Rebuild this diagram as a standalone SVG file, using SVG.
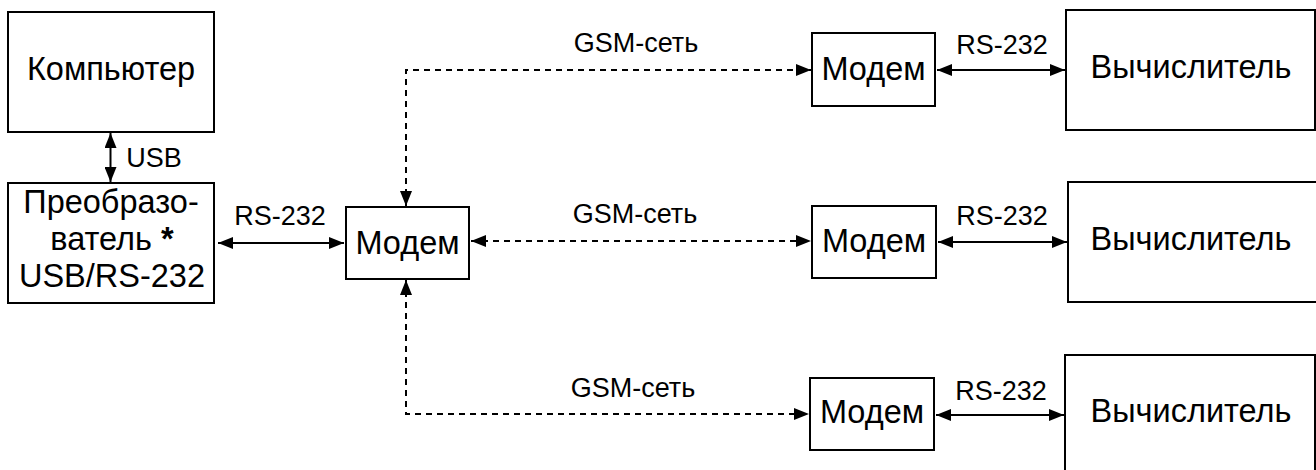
<svg xmlns="http://www.w3.org/2000/svg" width="1316" height="470" viewBox="0 0 1316 470">
<style>
.box{fill:#fff;stroke:#000;stroke-width:2}
.nt{font-family:"Liberation Sans",Arial,sans-serif;font-size:32.5px;fill:#000;text-anchor:middle}
.lt{font-family:"Liberation Sans",Arial,sans-serif;font-size:27px;fill:#000;text-anchor:middle}
.ln{fill:none;stroke:#000;stroke-width:2}
.dash{stroke-dasharray:6 5}
</style>
<defs>
<marker id="ah" viewBox="0 0 15 12" refX="15" refY="6" markerWidth="15" markerHeight="12" markerUnits="userSpaceOnUse" orient="auto-start-reverse">
<path d="M0,0 L15,6 L0,12 Z" fill="#000"/>
</marker>
</defs>
<rect width="1316" height="470" fill="#fff"/>
<g id="connectors">
<line class="ln" x1="110.5" y1="133" x2="110.5" y2="182" marker-start="url(#ah)" marker-end="url(#ah)"/>
<line class="ln" x1="218" y1="243" x2="344" y2="243" marker-start="url(#ah)" marker-end="url(#ah)"/>
<path class="ln dash" d="M406,206 V70 H811" marker-start="url(#ah)" marker-end="url(#ah)"/>
<line class="ln dash" x1="471" y1="241" x2="811" y2="241" marker-start="url(#ah)" marker-end="url(#ah)"/>
<path class="ln dash" d="M406,280 V414 H809" marker-start="url(#ah)" marker-end="url(#ah)"/>
<line class="ln" x1="937" y1="70" x2="1065" y2="70" marker-start="url(#ah)" marker-end="url(#ah)"/>
<line class="ln" x1="938" y1="242" x2="1067" y2="242" marker-start="url(#ah)" marker-end="url(#ah)"/>
<line class="ln" x1="936" y1="415" x2="1064" y2="415" marker-start="url(#ah)" marker-end="url(#ah)"/>
<text class="lt" x="154" y="167">USB</text>
<text class="lt" x="280" y="225">RS-232</text>
<text class="lt" x="636" y="52">GSM-сеть</text>
<text class="lt" x="635" y="223">GSM-сеть</text>
<text class="lt" x="633" y="397">GSM-сеть</text>
<text class="lt" x="1002" y="54">RS-232</text>
<text class="lt" x="1002" y="225">RS-232</text>
<text class="lt" x="1001" y="400">RS-232</text>
</g>
<g id="computer">
<rect class="box" x="8" y="12" width="206" height="120"/>
<text class="nt" x="111" y="80">Компьютер</text>
</g>
<g id="converter">
<rect class="box" x="8" y="183" width="206" height="120"/>
<text class="nt" x="111" y="213">Преобразо-</text>
<text class="nt" x="112" y="250">ватель <tspan font-weight="bold">*</tspan></text>
<text class="nt" x="112" y="287">USB/RS-232</text>
</g>
<g id="modem-center">
<rect class="box" x="346" y="207" width="123" height="72"/>
<text class="nt" x="407.5" y="254">Модем</text>
</g>
<g id="modem-top">
<rect class="box" x="812" y="33" width="123" height="73"/>
<text class="nt" x="873.5" y="80">Модем</text>
</g>
<g id="modem-middle">
<rect class="box" x="812" y="206" width="124" height="72"/>
<text class="nt" x="874" y="252">Модем</text>
</g>
<g id="modem-bottom">
<rect class="box" x="810" y="378" width="124" height="72"/>
<text class="nt" x="872" y="423">Модем</text>
</g>
<g id="calc-top">
<rect class="box" x="1066" y="10" width="249" height="120"/>
<text class="nt" x="1191" y="78">Вычислитель</text>
</g>
<g id="calc-middle">
<rect class="box" x="1068" y="182" width="260" height="120"/>
<text class="nt" x="1191" y="250">Вычислитель</text>
</g>
<g id="calc-bottom">
<rect class="box" x="1065" y="355" width="250" height="130"/>
<text class="nt" x="1191" y="422">Вычислитель</text>
</g>
</svg>
